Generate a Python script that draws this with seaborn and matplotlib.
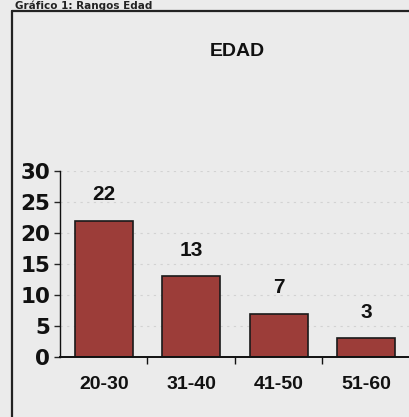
import matplotlib
matplotlib.use("Agg")
import matplotlib.pyplot as plt
from matplotlib.lines import Line2D
import seaborn as sns
import pandas as pd

# Age ranges and counts
rangos = ["20-30", "31-40", "41-50", "51-60"]
cantidad = [22, 13, 7, 3]
y_ticks = [0, 5, 10, 15, 20, 25, 30]

bg = "#ebebeb"
bar_color = "#9c3d39"

sns.set_theme(style="white")
plt.rcParams["font.family"] = ["Liberation Sans Narrow", "Liberation Sans", "DejaVu Sans"]

df = pd.DataFrame({"rango": rangos, "cantidad": cantidad})

fig = plt.figure(figsize=(4.1, 4.17), dpi=100, facecolor=bg)
W, H = 410, 417
ax = fig.add_axes([60 / W, 60 / H, 350 / W, 186 / H])
ax.set_facecolor(bg)

sns.barplot(data=df, x="rango", y="cantidad", color=bar_color, saturation=1,
            width=0.66, edgecolor="#1a1a1a", linewidth=1.2, ax=ax)

ax.set_xlim(-0.5, 3.5)
ax.set_ylim(0, 30)
ax.set_yticks(y_ticks)
ax.set_yticklabels([str(t) for t in y_ticks], fontsize=15.5, fontweight="bold",
                   family=["DejaVu Sans"], color="#111111")
ax.tick_params(axis="y", direction="out", length=4, width=1, pad=3, left=True)

ax.set_xticks(range(len(rangos)))
ax.set_xticklabels(rangos, fontsize=14, fontweight="bold", color="#111111")
ax.tick_params(axis="x", which="major", length=0, pad=14)
ax.set_xticks([0.5, 1.5, 2.5, 3.5], minor=True)
ax.tick_params(axis="x", which="minor", direction="out", length=5, width=1,
               bottom=True, color="#111111")
ax.set_xlabel("")
ax.set_ylabel("")

# faint dotted guides at each tick
for t in y_ticks[1:]:
    ax.axhline(t, color="#d2d2d2", lw=0.8, ls=(0, (2, 4)), zorder=0)

for s in ["top", "right"]:
    ax.spines[s].set_visible(False)
ax.spines["left"].set_color("#111111")
ax.spines["left"].set_linewidth(1)
ax.spines["bottom"].set_color("#111111")
ax.spines["bottom"].set_linewidth(1.4)

# value labels above bars
for i, v in enumerate(cantidad):
    ax.annotate(str(v), (i, v), xytext=(0, 12), textcoords="offset points",
                ha="center", va="bottom", fontsize=15, fontweight="bold",
                color="#111111")

# chart title
fig.text(237 / W, 1 - 51 / H, "EDAD", ha="center", va="center",
         fontsize=14, fontweight="bold", color="#111111")

# figure heading above the frame
fig.text(15 / W, 1 - 0.5 / H, "Gráfico 1: Rangos Edad", ha="left", va="top",
         fontsize=7.5, fontweight="bold", family=["DejaVu Sans"], color="#222222")

# outer frame
fig.add_artist(Line2D([12.5 / W, 12.5 / W], [0, 1 - 10.5 / H],
                      color="#222222", lw=1.6, transform=fig.transFigure))
fig.add_artist(Line2D([12 / W, 1.0], [1 - 10.5 / H, 1 - 10.5 / H],
                      color="#222222", lw=1.6, transform=fig.transFigure))

fig.savefig("out.png", dpi=100, facecolor=bg)
